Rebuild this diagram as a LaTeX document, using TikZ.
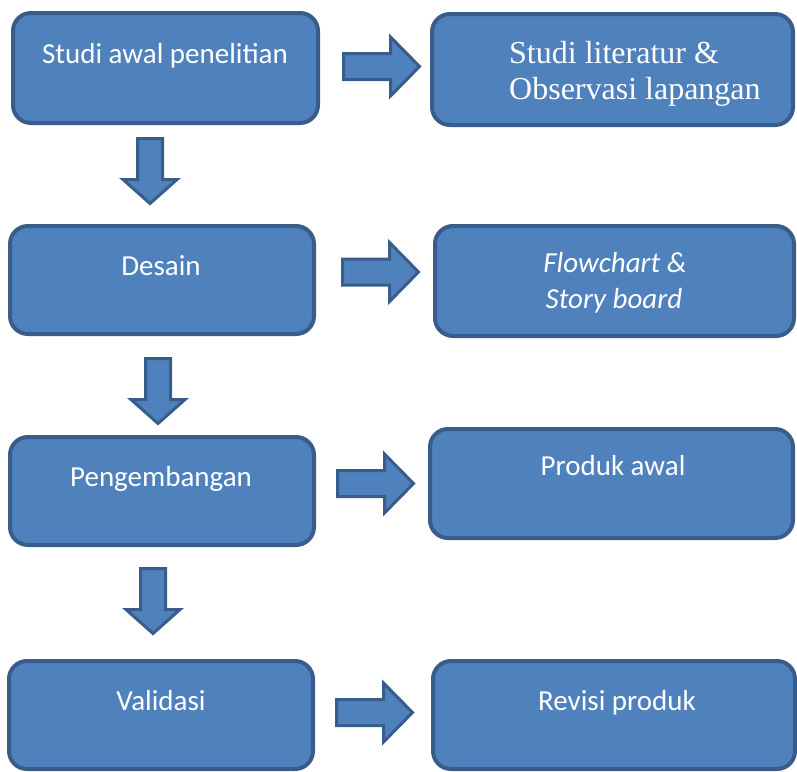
\documentclass[tikz,border=0pt]{standalone}
\usepackage{fontspec}
\setmainfont{Carlito}
\newfontfamily\timesfont{Liberation Serif}
\usetikzlibrary{calc}
\definecolor{boxfill}{HTML}{4F81BD}
\definecolor{boxline}{HTML}{385D8A}
\tikzset{
  box/.style={draw=boxline, fill=boxfill, line width=4pt, rounded corners=18pt, inner sep=0pt},
  txt/.style={text=white, font=\fontsize{29}{36}\selectfont, anchor=base, inner sep=0pt},
  blockarrow/.style={draw=boxline, fill=boxfill, line width=3pt, line join=miter},
  rarr/.pic={\path[blockarrow] (0,-13) -- (47,-13) -- (47,-29.5) -- (76,0) -- (47,29.5) -- (47,13) -- (0,13) -- cycle;},
  darr/.pic={\path[blockarrow] (-12.5,0) -- (-12.5,41) -- (-27,41) -- (0,65) -- (27,41) -- (12.5,41) -- (12.5,0) -- cycle;}
}
\begin{document}
\begin{tikzpicture}[x=1pt,y=-1pt]
\useasboundingbox (0,0) rectangle (797,771);
% boxes
\node[box, minimum width=305pt, minimum height=110pt] (b1) at (165.5,68) {};
\node[box, minimum width=361pt, minimum height=111pt] (b2) at (612.5,69.5) {};
\node[box, minimum width=304pt, minimum height=108pt] (b3) at (162,280) {};
\node[box, minimum width=359pt, minimum height=110pt] (b4) at (614.5,281) {};
\node[box, minimum width=304pt, minimum height=108pt] (b5) at (162,491) {};
\node[box, minimum width=363pt, minimum height=109pt] (b6) at (611.5,483.5) {};
\node[box, minimum width=304pt, minimum height=108pt] (b7) at (161,715) {};
\node[box, minimum width=362pt, minimum height=108pt] (b8) at (614,715) {};
% texts
\node[txt] (t1) at (165,63) {Studi awal penelitian};
\node[txt, font=\timesfont\fontsize{32}{36}\selectfont, anchor=base west] (t2a) at (509,63) {Studi literatur \&};
\node[txt, font=\timesfont\fontsize{32}{36}\selectfont, anchor=base west] (t2b) at (509,99) {Observasi lapangan};
\node[txt] (t3) at (161,275) {Desain};
\node[txt, font=\itshape\fontsize{29}{36}\selectfont] (t4a) at (615,272) {Flowchart \&};
\node[txt, font=\itshape\fontsize{29}{36}\selectfont] (t4b) at (614,308) {Story board};
\node[txt] (t5) at (161,486) {Pengembangan};
\node[txt] (t6) at (613,475) {Produk awal};
\node[txt] (t7) at (161,710) {Validasi};
\node[txt] (t8) at (617,710) {Revisi produk};
% right arrows
\pic at (343.5,66.5) {rarr};
\pic at (342.5,272) {rarr};
\pic at (337.5,483.5) {rarr};
\pic at (336.5,712.5) {rarr};
% down arrows
\pic at (150,138.5) {darr};
\pic at (158,358.5) {darr};
\pic at (153,568.5) {darr};
\end{tikzpicture}
\end{document}
